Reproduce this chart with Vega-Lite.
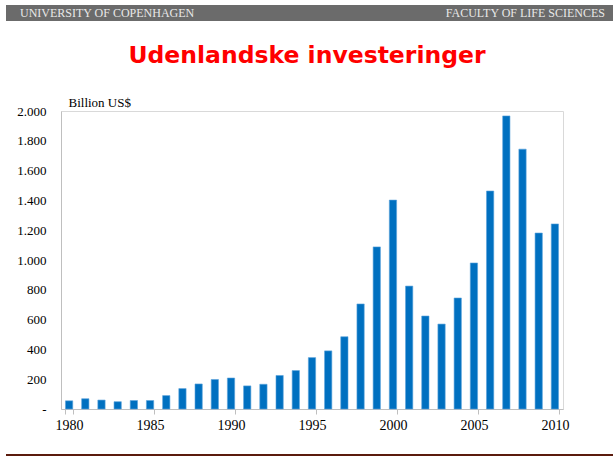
{
  "$schema": "https://vega.github.io/schema/vega-lite/v6.json",
  "background": "white",
  "padding": {"left": 6, "top": 5, "right": 0, "bottom": 0},
  "config": {"view": {"stroke": null}},
  "bounds": "flush",
  "spacing": 90,
  "vconcat": [
    {
      "width": 612,
      "height": 16,
      "view": {"fill": "#6b6b6b", "stroke": null},
      "layer": [
        {
          "data": {"values": [{"t": "UNIVERSITY OF COPENHAGEN"}]},
          "mark": {"type": "text", "align": "left", "dx": 14, "font": "Liberation Serif", "fontSize": 12, "color": "#e8e8e8"},
          "encoding": {
            "x": {"datum": 0, "type": "quantitative", "scale": {"domain": [0, 1]}, "axis": null},
            "text": {"field": "t"}
          }
        },
        {
          "data": {"values": [{"t": "FACULTY OF LIFE SCIENCES"}]},
          "mark": {"type": "text", "align": "right", "dx": -13, "font": "Liberation Serif", "fontSize": 12, "color": "#e8e8e8"},
          "encoding": {
            "x": {"datum": 1, "type": "quantitative", "scale": {"domain": [0, 1]}, "axis": null},
            "text": {"field": "t"}
          }
        }
      ]
    },
    {
      "bounds": "flush",
      "center": true,
      "spacing": 45,
      "vconcat": [
        {
          "width": 502,
          "height": 298,
          "view": {"stroke": "#d9d9d9"},
          "title": {"text": "Udenlandske investeringer", "color": "#ff0000", "font": "DejaVu Sans", "fontSize": 23.5, "fontWeight": "bold", "anchor": "middle", "dx": -5, "offset": 29},
          "data": {"values": [
            {"year": 1980, "value": 55}, {"year": 1981, "value": 69}, {"year": 1982, "value": 60},
            {"year": 1983, "value": 49}, {"year": 1984, "value": 57}, {"year": 1985, "value": 57},
            {"year": 1986, "value": 90}, {"year": 1987, "value": 137}, {"year": 1988, "value": 168},
            {"year": 1989, "value": 198}, {"year": 1990, "value": 208}, {"year": 1991, "value": 155},
            {"year": 1992, "value": 166}, {"year": 1993, "value": 225}, {"year": 1994, "value": 258},
            {"year": 1995, "value": 345}, {"year": 1996, "value": 390}, {"year": 1997, "value": 485},
            {"year": 1998, "value": 705}, {"year": 1999, "value": 1088}, {"year": 2000, "value": 1402},
            {"year": 2001, "value": 825}, {"year": 2002, "value": 624}, {"year": 2003, "value": 570},
            {"year": 2004, "value": 745}, {"year": 2005, "value": 980}, {"year": 2006, "value": 1463},
            {"year": 2007, "value": 1967}, {"year": 2008, "value": 1744}, {"year": 2009, "value": 1181},
            {"year": 2010, "value": 1242}
          ]},
          "mark": {"type": "bar", "color": "#0070c0", "stroke": "#5ba3dc", "strokeWidth": 0.6},
          "encoding": {
            "x": {
              "field": "year", "type": "ordinal",
              "scale": {"paddingInner": 0.55, "paddingOuter": 0.275},
              "axis": {
                "values": [1980, 1985, 1990, 1995, 2000, 2005, 2010],
                "tickBand": "extent", "labelAngle": 0, "title": null,
                "domainColor": "#bfbfbf", "tickColor": "#bfbfbf", "tickSize": 5,
                "labelFont": "Liberation Serif", "labelFontSize": 14, "labelColor": "black", "labelPadding": 4
              }
            },
            "y": {
              "field": "value", "type": "quantitative",
              "scale": {"domain": [0, 2000]},
              "axis": {
                "values": [0, 200, 400, 600, 800, 1000, 1200, 1400, 1600, 1800, 2000],
                "grid": false, "ticks": false, "domainColor": "#bfbfbf",
                "labelExpr": "datum.value == 0 ? '-' : replace(format(datum.value, ','), ',', '.')",
                "labelPadding": 15,
                "labelFont": "Liberation Serif", "labelFontSize": 13, "labelColor": "black",
                "title": "Billion US$", "titleAngle": 0, "titleAlign": "left", "titleBaseline": "bottom",
                "titleX": 7, "titleY": -2, "titleFont": "Liberation Serif", "titleFontSize": 13,
                "titleFontWeight": "normal", "titleColor": "black"
              }
            }
          }
        },
        {
          "width": 612,
          "height": 2,
          "data": {"values": [{}]},
          "mark": {"type": "rect", "color": "#5b1b0d"},
          "encoding": {}
        }
      ]
    }
  ]
}
